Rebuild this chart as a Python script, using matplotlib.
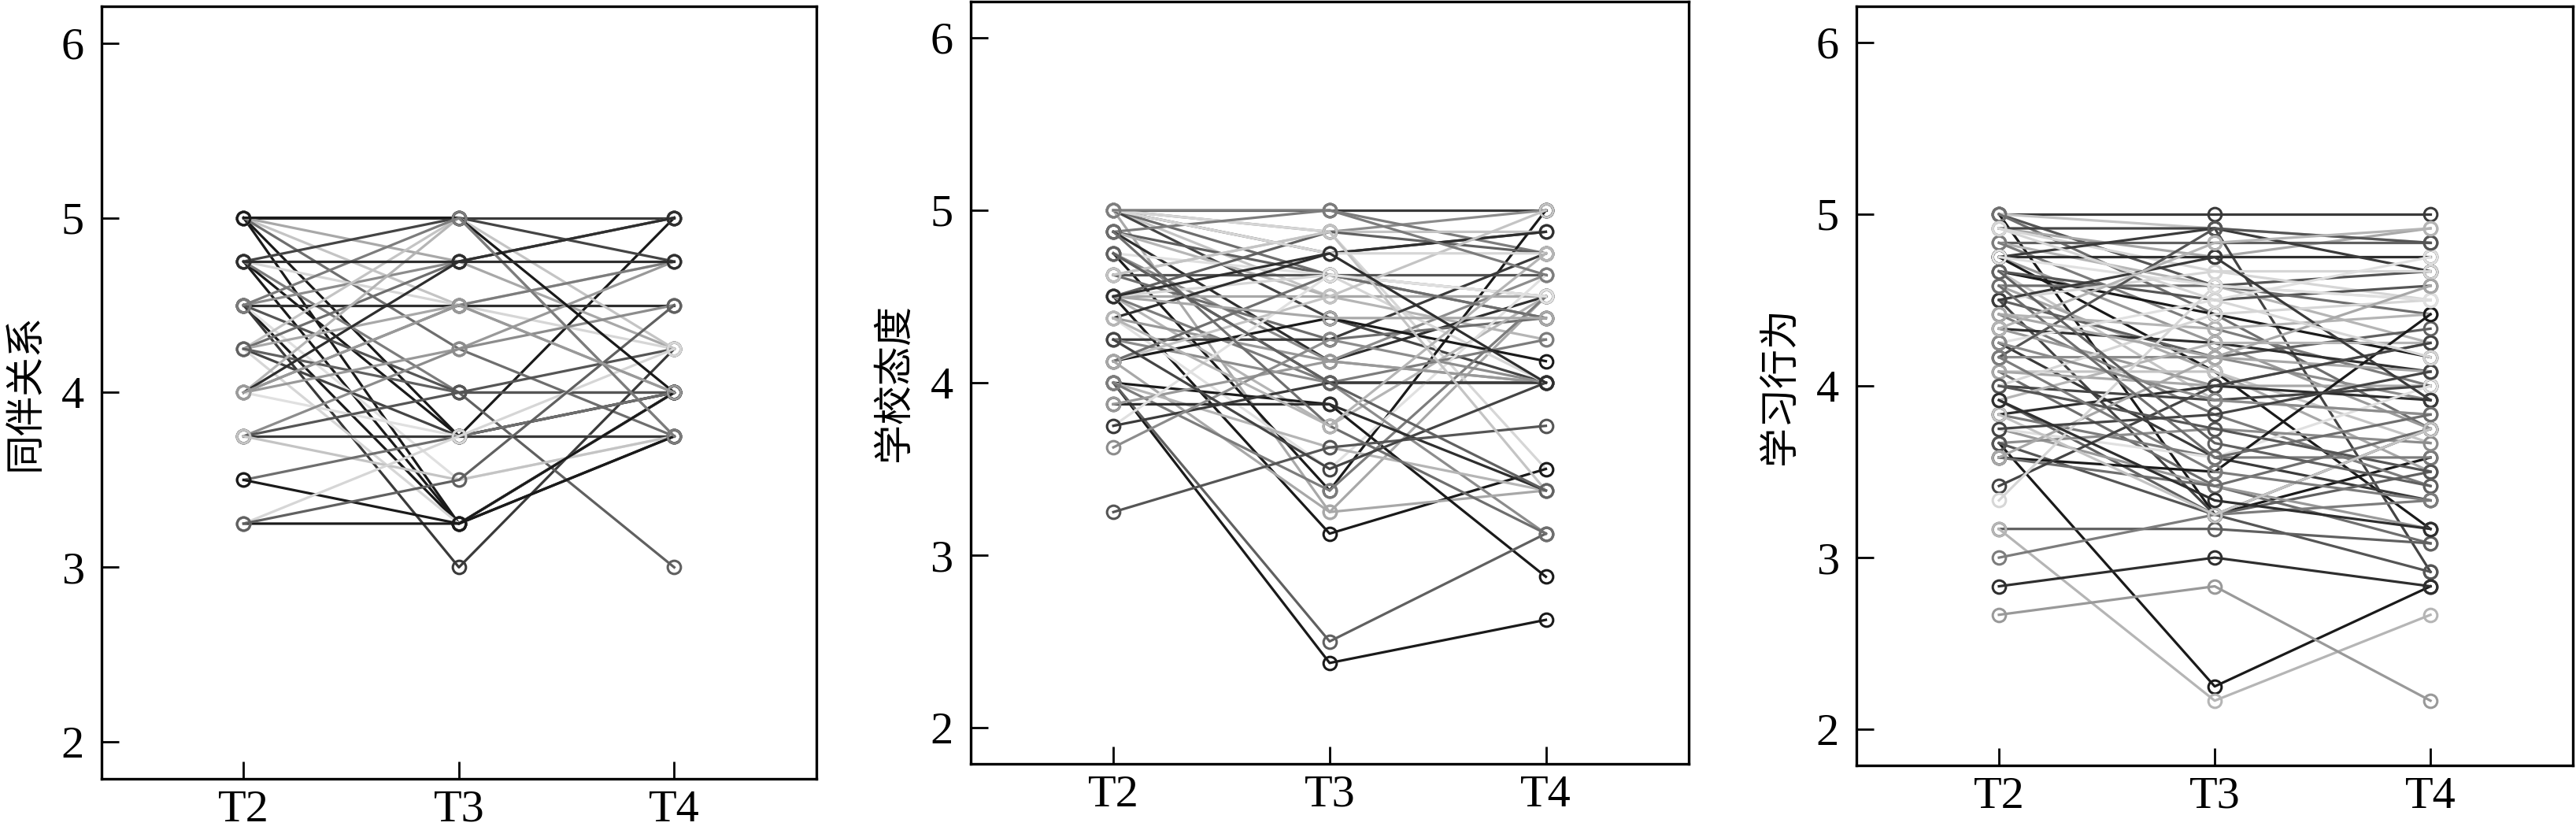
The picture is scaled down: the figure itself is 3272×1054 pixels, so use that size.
import matplotlib.pyplot as plt

plt.rcParams['font.family'] = ['Liberation Serif', 'Noto Sans CJK SC']

times = ['T2', 'T3', 'T4']

# 同伴关系 (peer relations): one row per student, values at T2/T3/T4
peer_t2 = [5, 5, 5, 5, 5, 5, 4.75, 4.75, 4.75, 4.75, 4.75, 4.5, 4.5, 4.5,
           4.5, 4.5, 4.5, 4.25, 4.25, 4.25, 4.25, 4.25, 4.25, 4.0, 4.0, 4.0,
           4.0, 4.0, 3.75, 3.75, 3.75, 3.75, 3.5, 3.5, 3.25, 3.25, 3.25, 5,
           4.5, 4.75, 4.0]
peer_t3 = [5, 3.75, 3.25, 4.5, 4.25, 4.75, 5, 4.5, 3.75, 3.25, 4.0, 4.5, 3.25,
           3.5, 3.0, 4.75, 4.0, 5, 4.75, 4.5, 3.75, 3.25, 4.0, 5, 4.5, 4.75,
           4.25, 3.75, 3.75, 4.25, 4.0, 3.5, 3.75, 3.25, 3.25, 3.75, 3.5, 5,
           5, 4.75, 4.5]
peer_t4 = [5, 5, 4.0, 4.75, 3.75, 4.25, 4.75, 4.25, 4.0, 3.75, 4.0, 4.5, 4.0,
           3.75, 4.25, 5.0, 4.25, 4.25, 5, 4.0, 4.0, 4.0, 3.0, 3.75, 4.75, 5,
           4.75, 3.75, 3.75, 4.5, 4.0, 3.75, 4.0, 3.75, 4.0, 4.25, 4.5, 4.0,
           3.75, 4.75, 4.0]

# 学校态度 (school attitude)
school_t2 = [5, 5, 5, 5, 5, 5, 5, 5, 4.875, 4.875, 4.875, 4.875, 4.75, 4.75,
             4.75, 4.75, 4.625, 4.625, 4.625, 4.5, 4.5, 4.5, 4.5, 4.5, 4.5,
             4.375, 4.375, 4.375, 4.25, 4.25, 4.125, 4.125, 4.125, 4.125, 4.0,
             4.0, 4.0, 4.0, 4.0, 3.875, 3.875, 3.75, 3.75, 3.625, 3.25, 4.625,
             4.875, 4.5, 4.25, 5, 4.75, 4.375, 5, 4.5]
school_t3 = [5, 4.875, 4.75, 4.5, 4.625, 3.25, 4.375, 4.875, 4.625, 4.5, 5,
             4.125, 3.375, 4.625, 4.0, 4.125, 4.625, 4.875, 4.25, 4.5, 3.125,
             4.625, 4.875, 3.75, 4.0, 4.75, 4.125, 3.5, 4.25, 4.0, 4.375, 4.5,
             4.625, 3.25, 3.875, 2.375, 2.5, 3.625, 3.375, 3.875, 4.125, 4.625,
             4.0, 4.25, 3.625, 4.875, 3.75, 4.375, 3.5, 4.75, 4.0, 3.75, 5,
             4.75]
school_t4 = [5, 5, 4.875, 4.5, 4.375, 4.5, 4.0, 3.5, 4.5, 4.25, 4.75, 4.5, 5.0,
             4.5, 4.0, 4.625, 4.625, 4.875, 4.375, 4.5, 3.5, 4.0, 4.75, 4.5,
             4.25, 4.875, 4.0, 4.625, 4.75, 3.125, 4.125, 5.0, 4.375, 3.375,
             2.875, 2.625, 3.125, 3.375, 4.5, 3.375, 4.0, 4.5, 4.0, 4.0, 3.75,
             3.375, 3.125, 4.375, 4.0, 4.75, 3.375, 4.75, 4.625, 4.0]

# 学习行为 (learning behaviour)
learn_t2 = [5, 5, 5, 5, 5, 4.917, 4.917, 4.917, 4.833, 4.833, 4.833, 4.75,
            4.75, 4.75, 4.75, 4.667, 4.667, 4.667, 4.583, 4.583, 4.5, 4.5, 4.5,
            4.417, 4.417, 4.333, 4.333, 4.25, 4.25, 4.167, 4.167, 4.083, 4.083,
            4.083, 4.0, 4.0, 3.917, 3.917, 3.833, 3.833, 3.75, 3.75, 3.667,
            3.667, 3.667, 3.583, 3.583, 3.583, 3.417, 3.333, 3.167, 3.167, 3.0,
            2.833, 2.667, 4.75, 4.5, 4.25, 4.0, 3.833, 4.583, 4.417, 3.75,
            4.917, 4.667, 4.333, 4.167, 3.917]
learn_t3 = [5, 3.25, 4.583, 4.917, 4.417, 4.75, 4.917, 4.667, 4.833, 4.583,
            4.333, 4.75, 4.25, 4.083, 4.917, 4.417, 4.5, 3.917, 4.583, 4.083,
            3.25, 4.667, 4.167, 4.333, 3.833, 4.25, 4.0, 4.5, 3.583, 4.167,
            4.917, 4.083, 3.417, 4.0, 3.917, 4.417, 3.25, 4.25, 3.583, 4.0,
            3.417, 3.583, 2.25, 3.75, 3.25, 3.5, 3.417, 4.167, 4.0, 4.583,
            3.167, 2.167, 3.25, 3.0, 2.833, 4.583, 4.75, 3.917, 3.75, 3.25,
            3.583, 4.167, 3.833, 4.5, 3.667, 4.833, 3.5, 3.333]
learn_t4 = [5, 3.583, 4.667, 4.833, 3.75, 4.917, 2.917, 4.5, 4.833, 4.25, 4.0,
            4.75, 3.75, 3.167, 4.667, 4.167, 4.583, 3.833, 4.417, 3.5, 3.75,
            4.667, 4.333, 4.417, 3.417, 4.083, 4.25, 4.75, 3.333, 3.917, 4.833,
            3.667, 3.083, 4.0, 4.0, 4.5, 3.5, 4.25, 3.583, 3.917, 3.167, 4.0,
            2.833, 3.667, 2.917, 4.417, 3.75, 4.083, 4.25, 4.5, 3.083, 2.667,
            3.333, 2.833, 2.167, 4.5, 3.917, 3.833, 3.5, 3.75, 3.833, 4.583,
            4.083, 4.167, 3.417, 4.917, 3.333, 3.167]

panels = [
    ('同伴关系', peer_t2, peer_t3, peer_t4),
    ('学校态度', school_t2, school_t3, school_t4),
    ('学习行为', learn_t2, learn_t3, learn_t4),
]

# rows drawn almost black in each panel
dark_rows = [
    [1, 2, 8, 9, 12, 33, 34, 37],
    [12, 30, 34, 35, 20],
    [15, 42, 45, 13, 1],
]

grays = ['#3a3a3a', '#8c8c8c', '#555555', '#c4c4c4', '#6e6e6e', '#a8a8a8',
         '#444444', '#d6d6d6', '#606060', '#b5b5b5', '#7c7c7c', '#2e2e2e',
         '#999999', '#e0e0e0']

# axes boxes in figure fractions [left, bottom, width, height]
boxes = [
    [0.0394, 0.0617, 0.2775, 0.9307],
    [0.3768, 0.0797, 0.2787, 0.9184],
    [0.7207, 0.0778, 0.2781, 0.9146],
]

fig = plt.figure(figsize=(32.72, 10.54), dpi=100)

for i, (label, t2, t3, t4) in enumerate(panels):
    ax = fig.add_axes(boxes[i])
    for j in range(len(t2)):
        if j in dark_rows[i]:
            c = '#1a1a1a'
        else:
            c = grays[j % len(grays)]
        ax.plot(times, [t2[j], t3[j], t4[j]], '-o', color=c, lw=2.3,
                ms=12, mfc='none', mec=c, mew=2.2)

    ax.set_xlim(-0.66, 2.66)
    ax.set_ylim(1.79, 6.21)
    ax.set_yticks([2, 3, 4, 5, 6])
    ax.tick_params(axis='both', direction='in', length=16, width=2,
                   labelsize=42)
    ax.tick_params(axis='y', pad=16)
    ax.tick_params(axis='x', pad=10)
    for s in ax.spines.values():
        s.set_linewidth(2.4)
    ax.set_ylabel(label, fontsize=36, family=['Noto Sans CJK SC'])
    ax.yaxis.set_label_coords(-0.078, 0.5)

fig.savefig('out.png', dpi=100)
